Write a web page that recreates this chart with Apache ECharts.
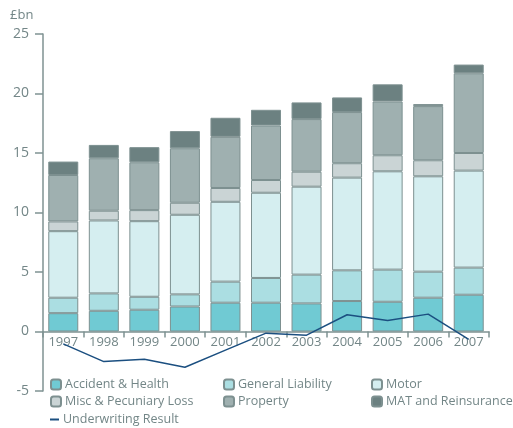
<!DOCTYPE html>
<html>
<head>
<meta charset="utf-8">
<script src="https://cdn.jsdelivr.net/npm/echarts@6/dist/echarts.min.js"></script>
<style>
  html, body { margin: 0; padding: 0; background: #fff; }
  #chart { width: 513px; height: 428px; }
</style>
</head>
<body>
<div id="chart"></div>
<script>
const years = ["1997", "1998", "1999", "2000", "2001", "2002", "2003", "2004", "2005", "2006", "2007"];
const accidentHealth = [1.54, 1.74, 1.83, 2.1, 2.42, 2.42, 2.36, 2.56, 2.5, 2.84, 3.09];
const generalLiability = [1.3, 1.46, 1.09, 1.02, 1.77, 2.08, 2.42, 2.58, 2.7, 2.19, 2.28];
const motor = [5.59, 6.13, 6.35, 6.69, 6.71, 7.16, 7.39, 7.79, 8.26, 8.01, 8.15];
const miscPecuniary = [0.82, 0.82, 0.93, 1.01, 1.16, 1.07, 1.26, 1.21, 1.35, 1.35, 1.48];
const property = [3.9, 4.41, 4.02, 4.58, 4.3, 4.58, 4.42, 4.3, 4.52, 4.55, 6.7];
const matReinsurance = [1.13, 1.12, 1.27, 1.44, 1.6, 1.32, 1.4, 1.23, 1.44, 0.17, 0.73];
const underwriting = [-1.04, -2.53, -2.33, -3.0, -1.57, -0.14, -0.31, 1.41, 0.93, 1.46, -0.67];

const axisGrey = "#7f9292";
const textGrey = "#738687";
const font = "Open Sans";

const chart = echarts.init(document.getElementById("chart"));

// y runs -5..25 over the grid, so the zero line sits 5/30 of the height above the bottom
const gridTop = 34;
const gridBottom = 37;
const zeroOffset = (428 - gridTop - gridBottom) * 5 / 30;

function barSeries(name, data, color) {
  return {
    name: name,
    type: "bar",
    stack: "total",
    barWidth: 30,
    data: data,
    itemStyle: { color: color, borderColor: "#7d9090", borderWidth: 1 }
  };
}

function legendAt(name, left, top, extra) {
  return Object.assign({
    data: [name],
    left: left,
    top: top,
    itemWidth: 10,
    itemHeight: 10,
    itemGap: 0,
    padding: 0,
    selectedMode: false,
    textStyle: { color: textGrey, fontSize: 12.5, fontFamily: font, padding: [0, 0, 0, -1] }
  }, extra || {});
}

chart.setOption({
  animation: false,
  title: {
    text: "£bn",
    left: 5,
    top: 4,
    textStyle: { color: textGrey, fontSize: 13, fontWeight: "normal", fontFamily: font }
  },
  grid: { left: 43, right: 24, top: gridTop, bottom: gridBottom },
  legend: [
    legendAt("Accident & Health", 50, 378),
    legendAt("General Liability", 223, 378),
    legendAt("Motor", 371, 378),
    legendAt("Misc & Pecuniary Loss", 50, 395),
    legendAt("Property", 223, 395),
    legendAt("MAT and Reinsurance", 371, 395),
    legendAt("Underwriting Result", 50, 413, { icon: "rect", itemWidth: 9, itemHeight: 2 })
  ],
  xAxis: {
    type: "category",
    data: years,
    position: "bottom",
    offset: -zeroOffset,
    axisLine: { onZero: false, lineStyle: { color: axisGrey, width: 1.5 } },
    axisTick: { show: true, length: 6, lineStyle: { color: axisGrey, width: 1.5 } },
    axisLabel: { color: textGrey, fontSize: 13, fontFamily: font, margin: 4 }
  },
  yAxis: {
    type: "value",
    min: -5,
    max: 25,
    interval: 5,
    splitLine: { show: false },
    axisLine: { show: true, lineStyle: { color: axisGrey, width: 1.5 } },
    axisTick: { show: true, length: 8, lineStyle: { color: axisGrey, width: 1.5 } },
    axisLabel: { color: textGrey, fontSize: 14, fontFamily: font, margin: 14 }
  },
  series: [
    barSeries("Accident & Health", accidentHealth, "#70cad3"),
    barSeries("General Liability", generalLiability, "#abdee2"),
    barSeries("Motor", motor, "#d5eef0"),
    barSeries("Misc & Pecuniary Loss", miscPecuniary, "#cad4d5"),
    barSeries("Property", property, "#9fb0b0"),
    barSeries("MAT and Reinsurance", matReinsurance, "#6c8181"),
    {
      name: "Underwriting Result",
      type: "line",
      data: underwriting,
      symbol: "none",
      z: 5,
      lineStyle: { color: "#1b4f80", width: 1.5 },
      itemStyle: { color: "#1b4f80" }
    }
  ]
});
</script>
</body>
</html>
